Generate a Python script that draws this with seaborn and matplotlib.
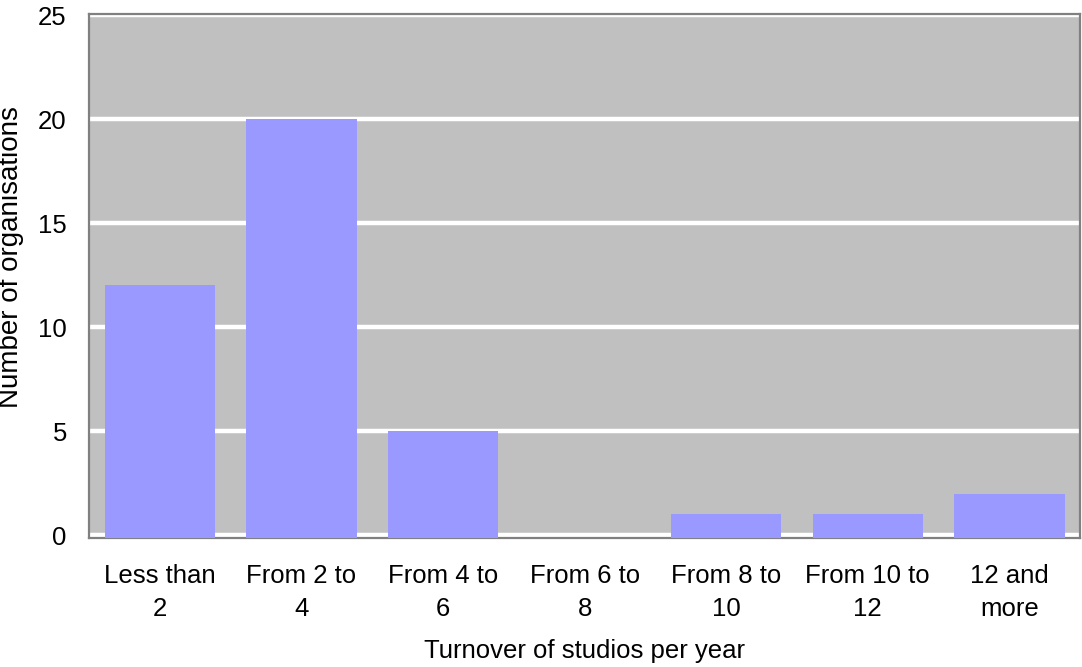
import matplotlib
matplotlib.use("Agg")
import matplotlib.pyplot as plt
import seaborn as sns
import pandas as pd

# Turnover bands and number of organisations in each
categories = ["Less than\n2", "From 2 to\n4", "From 4 to\n6", "From 6 to\n8",
              "From 8 to\n10", "From 10 to\n12", "12 and\nmore"]
counts = [12, 20, 5, 0, 1, 1, 2]
y_ticks = [0, 5, 10, 15, 20, 25]

df = pd.DataFrame({"band": categories, "count": counts})

sns.set_style("white")
plt.rcParams["font.family"] = ["Liberation Sans", "DejaVu Sans"]
plt.rcParams["text.color"] = "black"
plt.rcParams["axes.labelcolor"] = "black"
plt.rcParams["xtick.color"] = "black"
plt.rcParams["ytick.color"] = "black"

fig = plt.figure(figsize=(10.82, 6.67), dpi=100)
ax = fig.add_axes([0.0823, 0.194, 0.916, 0.785])
ax.set_facecolor("#C0C0C0")

y_low = -0.12
sns.barplot(data=df, x="band", y="count", color="#9999FF", saturation=1,
            width=0.78, ax=ax, zorder=3)
# non-empty bars run down to the bottom of the frame
for p in ax.patches:
    h = p.get_height()
    p.set_edgecolor("none")
    if h > 0:
        p.set_y(y_low)
        p.set_height(h - y_low)

ax.set_ylim(y_low, 25.05)
ax.set_xlim(-0.5, len(categories) - 0.5)
ax.set_yticks(y_ticks)
ax.yaxis.grid(True, color="white", linewidth=3.2, zorder=1)
ax.set_axisbelow(True)
ax.tick_params(axis="both", length=0, labelsize=18.5, colors="black")
ax.tick_params(axis="y", pad=16)
ax.tick_params(axis="x", pad=19)
for lbl in ax.get_xticklabels():
    lbl.set_linespacing(1.45)

for s in ax.spines.values():
    s.set_visible(True)
    s.set_color("#808080")
    s.set_linewidth(1.6)

ax.set_xlabel("Turnover of studios per year", fontsize=18.5, labelpad=13)
ax.set_ylabel("Number of organisations", fontsize=20)
ax.yaxis.set_label_coords(-0.0656, 0.536)

fig.savefig("out.png", dpi=100)
